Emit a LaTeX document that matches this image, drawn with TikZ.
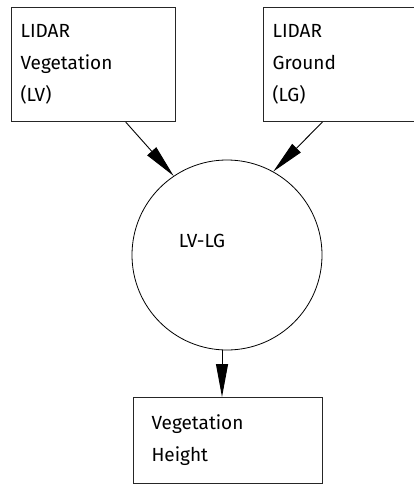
\documentclass[tikz,border=0pt]{standalone}
\usepackage{fontspec}
\setsansfont{Fira Sans}
\usetikzlibrary{arrows.meta,calc,positioning}

\begin{document}
\begin{tikzpicture}[x=1pt, y=-1pt, font=\sffamily\fontsize{19}{32}\selectfont,
  box/.style={draw=black!85, line width=1.1pt, rectangle, align=left, inner xsep=9pt, inner ysep=0pt, anchor=north west},
  feed/.style={-{Triangle[length=33pt, width=12pt]}, line width=0.9pt}]
  \useasboundingbox (0,0) rectangle (413,484);
  % sources
  \node[box, minimum width=164pt, minimum height=114pt, text width=146pt] (lv) at (11,7) {LIDAR\\Vegetation\\(LV)};
  \node[box, minimum width=164pt, minimum height=114pt, text width=146pt] (lg) at (263,7) {LIDAR\\Ground\\(LG)};
  % difference
  \node[draw, circle, minimum size=190pt, inner sep=0pt, line width=0.8pt,
    label={[xshift=-25pt, yshift=14.5pt]center:LV-LG}] (diff) at (227,255) {};
  % result
  \node[box, inner xsep=18pt, minimum width=189pt, minimum height=86pt, text width=153pt] (hgt) at (133,397) {Vegetation\\Height};
  \draw[feed] ($(lv.south west)!0.695!(lv.south east)$) -- (diff.124);
  \draw[feed] ($(lg.south west)!0.36!(lg.south east)$) -- (diff.61);
  \draw[feed] (diff.267) -- (diff.267 |- hgt.north);
\end{tikzpicture}
\end{document}
